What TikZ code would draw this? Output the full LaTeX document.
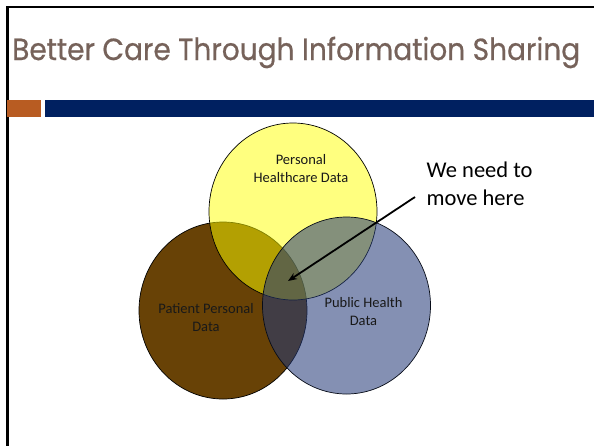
\documentclass[tikz,border=0pt]{standalone}
\usepackage{fontspec}
\usepackage{graphicx}
\setmainfont{Carlito}
\newfontfamily\titlefont[FakeBold=0.6]{Poppins}
\usetikzlibrary{shapes.geometric,arrows.meta}

\definecolor{titlegrey}{RGB}{118,98,90}
\definecolor{accentorange}{RGB}{184,92,34}
\definecolor{barnavy}{RGB}{0,32,96}
\definecolor{setbrown}{RGB}{104,66,6}
\definecolor{setyellow}{RGB}{255,255,0}
\definecolor{setblue}{RGB}{36,58,120}

\tikzset{
  setshape/.style={ellipse, minimum width=168pt, minimum height=177pt,
    inner sep=0pt, draw=black, line width=0.7pt},
  setlabel/.style={align=center, font=\fontsize{14.5}{18}\selectfont, text=black!90},
  callout/.style={align=left, font=\fontsize{22.5}{28}\selectfont, text=black},
}

\begin{document}
\begin{tikzpicture}[x=1pt, y=-1pt]
  \useasboundingbox (0,0) rectangle (594,445);
  \fill[white] (0,0) rectangle (594,445);

  % slide frame (left and top edges)
  \draw[line width=2.6pt, line cap=rect] (7.5,445) -- (7.5,7) -- (594,7);

  % title, set to the full width of the header
  \node[anchor=base west, inner sep=0pt, text=titlegrey,
        font=\titlefont\fontsize{30.5}{30}\selectfont] (title) at (12,60)
        {\resizebox{568pt}{\height}{Better Care Through Information Sharing}};

  % accent bars under the title
  \fill[accentorange] (7,99.5) rectangle (40.5,116.5);
  \fill[barnavy] (45,99.5) rectangle (594,116.5);

  % the three overlapping data sets
  \node[setshape, fill=setbrown] (patient) at (223,310.5) {};
  \node[setshape, fill=setyellow, fill opacity=0.5] (personal) at (293,211.5) {};
  \node[setshape, fill=setblue, fill opacity=0.56, draw=black!80!setblue] (public) at (346.5,305.5) {};

  % set labels
  \node[setlabel] (personallbl) at (301,169) {Personal\\Healthcare Data};
  \node[setlabel] (patientlbl) at (206,317.5) {Patient Personal\\Data};
  \node[setlabel] (publiclbl) at (363.5,312) {Public Health\\Data};

  % call-out pointing at the common region
  \node[callout, anchor=north west, inner sep=0pt] (note) at (426.5,162) {We need to\\move here};
  \coordinate (tail) at (415,197);
  \coordinate (tip) at (288,281);
  \draw[line width=1.8pt, -{Stealth[length=9pt, width=7pt]}] (tail) -- (tip);
\end{tikzpicture}
\end{document}
